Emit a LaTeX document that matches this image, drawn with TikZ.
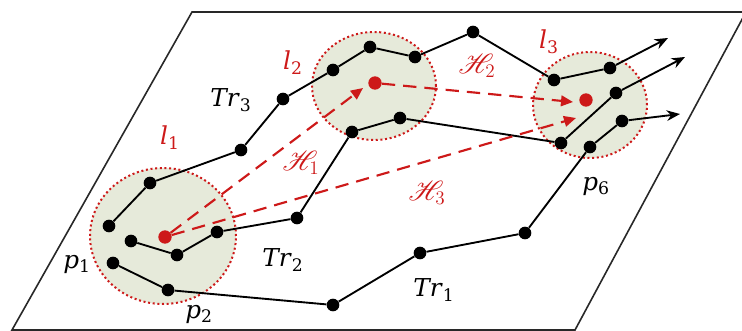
\documentclass[tikz,border=0pt]{standalone}
\usepackage{mathrsfs}
\usepackage{fontspec}
\setmainfont{DejaVu Serif}
\usetikzlibrary{arrows.meta,shapes.geometric}
\definecolor{dred}{RGB}{205,25,25}
\definecolor{zonefill}{RGB}{230,234,218}
\definecolor{framegray}{RGB}{40,40,40}
\begin{document}
\begin{tikzpicture}[x=0.75pt,y=-0.75pt,
  dot/.style={circle,fill=black,inner sep=0pt,minimum size=9.5pt},
  rdot/.style={circle,fill=dred,inner sep=0pt,minimum size=10pt},
  traj/.style={line width=1.4pt,black},
  tarrow/.style={traj,-{Stealth[length=10pt,width=8pt]}},
  zone/.style={ellipse,fill=zonefill,draw=dred,line width=1.5pt,dash pattern=on 1.5pt off 2pt,inner sep=0pt},
  harrow/.style={dred,line width=1.6pt,dash pattern=on 10pt off 6pt,-{Triangle[length=9pt,width=8pt]}},
  lab/.style={font=\fontsize{18.5}{22}\selectfont,inner sep=0pt},
  rlab/.style={lab,text=dred},
  hlab/.style={rlab,font=\fontsize{21}{24}\selectfont}]
\useasboundingbox (0,0) rectangle (742,331);
% plane
\draw[framegray,line width=1.2pt] (192,12) -- (746,12) -- (575,330) -- (12,330) -- cycle;
% zones
\node[zone,minimum width=109.5pt,minimum height=102pt] (z1) at (163,236) {};
\node[zone,minimum width=93pt,minimum height=81pt] (z2) at (374,86) {};
\node[zone,minimum width=85.5pt,minimum height=79.5pt] (z3) at (590,105) {};
% Tr3
\node[dot] (a1) at (109,226) {};
\node[dot] (a2) at (150,183) {};
\node[dot] (a3) at (241,150) {};
\node[dot] (a4) at (283,99) {};
\node[dot] (a5) at (333,70) {};
\node[dot] (a6) at (370,47) {};
\node[dot] (a7) at (415,57) {};
\node[dot] (a8) at (473,32) {};
\node[dot] (a9) at (554,80) {};
\node[dot] (a10) at (610,68) {};
\coordinate (e3) at (668,38);
% Tr2
\node[dot] (b1) at (131,241) {};
\node[dot] (b2) at (177,255) {};
\node[dot] (b3) at (217,232) {};
\node[dot] (b4) at (297,218) {};
\node[dot] (b5) at (352,132) {};
\node[dot] (b6) at (400,118) {};
\node[dot] (b7) at (561,143) {};
\node[dot] (b8) at (616,93) {};
\coordinate (e2) at (685,57);
% Tr1
\node[dot] (c1) at (113,263) {};
\node[dot] (c2) at (168,290) {};
\node[dot] (c3) at (333,305) {};
\node[dot] (c4) at (420,253) {};
\node[dot] (c5) at (525,233) {};
\node[dot] (c6) at (590,147) {};
\node[dot] (c7) at (622,121) {};
\coordinate (e1) at (680,114);
\draw[traj] (a1) -- (a2) -- (a3) -- (a4) -- (a5) -- (a6) -- (a7) -- (a8) -- (a9) -- (a10);
\draw[tarrow] (a10) -- (e3);
\draw[traj] (b1) -- (b2) -- (b3) -- (b4) -- (b5) -- (b6) -- (b7) -- (b8);
\draw[tarrow] (b8) -- (e2);
\draw[traj] (c1) -- (c2) -- (c3) -- (c4) -- (c5) -- (c6) -- (c7);
\draw[tarrow] (c7) -- (e1);
% representative points
\node[rdot] (r1) at (165,237) {};
\node[rdot] (r2) at (375,83) {};
\node[rdot] (r3) at (586,100) {};
\coordinate (h1e) at (363,88);
\coordinate (h2e) at (573,102);
\coordinate (h3e) at (576,118);
\draw[harrow] (r1) -- (h1e);
\draw[harrow] (r2) -- (h2e);
\draw[harrow] (r1) -- (h3e);
% labels
\node[lab] (tTr3) at (231,100) {\textit{Tr}\textsubscript{3}};
\node[lab] (tTr2) at (283,260) {\textit{Tr}\textsubscript{2}};
\node[lab] (tTr1) at (434,290) {\textit{Tr}\textsubscript{1}};
\node[lab] (tp1) at (77,264) {\textit{p}\textsubscript{1}};
\node[lab] (tp2) at (199,314) {\textit{p}\textsubscript{2}};
\node[lab] (tp6) at (596,186) {\textit{p}\textsubscript{6}};
\node[rlab] (tl1) at (170,138) {\textit{l}\textsubscript{1}};
\node[rlab] (tl2) at (293,63) {\textit{l}\textsubscript{2}};
\node[rlab] (tl3) at (549,42) {\textit{l}\textsubscript{3}};
\node[hlab] (th1) at (301,163) {$\mathscr{H}_1$};
\node[hlab] (th2) at (477,66) {$\mathscr{H}_2$};
\node[hlab] (th3) at (427,193) {$\mathscr{H}_3$};
\end{tikzpicture}
\end{document}
